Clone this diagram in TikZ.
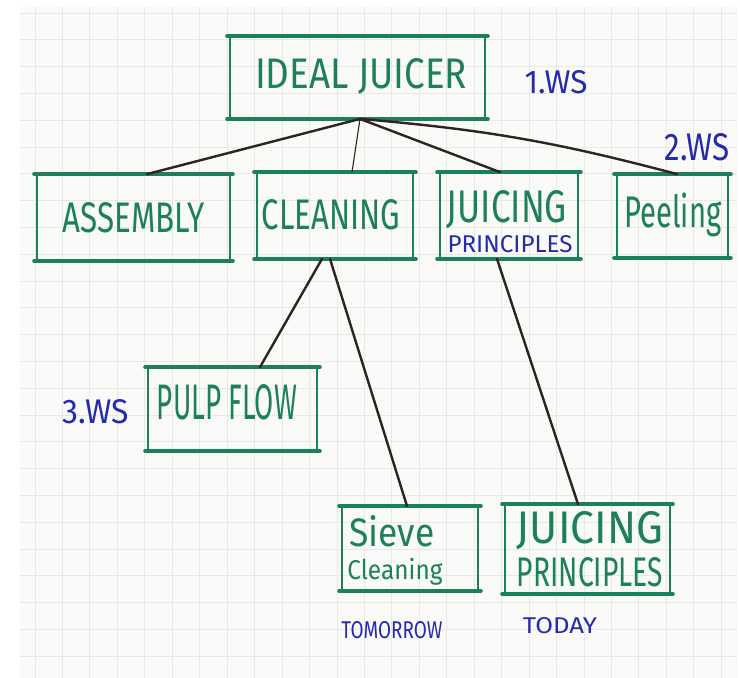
\documentclass[tikz,border=0pt]{standalone}
\usepackage{fontspec}
\usepackage{graphicx}
\newfontfamily\hand{Fira Sans}
\definecolor{jgreen}{RGB}{28,128,88}
\definecolor{jblue}{RGB}{38,42,172}
\definecolor{ink}{RGB}{45,35,35}
\definecolor{paper}{RGB}{250,250,248}
\definecolor{gridline}{RGB}{232,232,230}
% text scaled to a given width and height (height only / height plus depth)
\newcommand\fitcap[3]{\resizebox{#1pt}{#2pt}{\hand #3}}
\newcommand\fitall[3]{\resizebox*{#1pt}{#2pt}{\hand #3}}
\begin{document}
\begin{tikzpicture}[x=1pt,y=-1pt,
  box/.style={draw=jgreen, line width=1.8pt, inner sep=0pt},
  rim/.style={draw=jgreen, line width=3.8pt, line cap=round, shorten <=-2pt, shorten >=-2pt},
  lab/.style={inner sep=0pt, text=jgreen},
  note/.style={inner sep=0pt, text=jblue},
  link/.style={draw=ink, line width=2.4pt, line cap=round},
  thinlink/.style={draw=ink, line width=1.1pt, line cap=round}]
\useasboundingbox (0,0) rectangle (740,678);
\fill[white] (0,0) rectangle (740,678);
% flip-chart sheet with its square grid
\fill[paper] (20,7) rectangle (737,678);
\foreach \k in {0,...,25} \draw[gridline, line width=0.9pt] (35+27.45*\k,7) -- (35+27.45*\k,678);
\foreach \k in {0,...,24} \draw[gridline, line width=0.9pt] (20,13+26.8*\k) -- (737,13+26.8*\k);

% boxes
\node[box, minimum width=255pt, minimum height=81pt] (ideal)    at (357.5,77.5) {};
\node[box, minimum width=193pt, minimum height=85pt] (assembly) at (133.5,217.5) {};
\node[box, minimum width=156pt, minimum height=85pt] (cleaning) at (335,215.5) {};
\node[box, minimum width=138pt, minimum height=85pt] (juicing)  at (509,215.5) {};
\node[box, minimum width=111pt, minimum height=82pt] (peeling)  at (672.5,216) {};
\node[box, minimum width=169pt, minimum height=82pt] (pulp)     at (232.5,409) {};
\node[box, minimum width=136pt, minimum height=83pt] (sieve)    at (410,548.5) {};
\node[box, minimum width=165pt, minimum height=88pt] (juicingb) at (587.5,549) {};
\foreach \n in {ideal,assembly,cleaning,juicing,peeling,pulp,sieve,juicingb}{
  \draw[rim] (\n.north west) -- (\n.north east);
  \draw[rim] (\n.south west) -- (\n.south east);
}

% box texts
\node[lab] (ideal-t)     at (361,76)  {\fitcap{212}{30}{IDEAL JUICER}};
\node[lab] (assembly-t)  at (134,218) {\fitcap{142}{30}{ASSEMBLY}};
\node[lab] (cleaning-t)  at (331,215) {\fitcap{138}{30}{CLEANING}};
\node[lab] (juicing-t)   at (507,210) {\fitcap{120}{32}{JUICING}};
\node[note] (juicing-s)  at (510,244) {\fitcap{125}{17}{PRINCIPLES}};
\node[lab] (peeling-t)   at (673,215) {\fitall{97}{44}{Peeling}};
\node[lab] (pulp-t)      at (227,402) {\fitcap{140}{35}{PULP FLOW}};
\node[lab] (sieve-t)     at (392,531) {\fitcap{85}{31}{Sieve}};
\node[lab] (sieve-s)     at (395,572) {\fitall{95}{27}{Cleaning}};
\node[lab] (juicingb-t)  at (590,531) {\fitcap{146}{32}{JUICING}};
\node[lab] (juicingb-s)  at (590,572) {\fitcap{146}{29}{PRINCIPLES}};

% workshop and schedule notes
\node[note] (ws1) at (556,82)  {\fitcap{63}{23}{1.WS}};
\node[note] (ws2) at (697,147) {\fitcap{65}{27}{2.WS}};
\node[note] (ws3) at (96,412)  {\fitcap{66}{24}{3.WS}};
\node[note] (tomorrow) at (392,630) {\fitcap{101}{17}{TOMORROW}};
\node[note] (today)    at (560,626) {\fitcap{74}{16}{TODAY}};

% tree connectors
\coordinate (hub) at ([xshift=2.5pt]ideal.south);
\draw[link] (hub) -- ([xshift=13.5pt]assembly.north);
\draw[thinlink] (hub) -- ([xshift=17pt]cleaning.north);
\draw[link] (hub) -- ([xshift=-9pt]juicing.north);
\draw[link] (hub) to[bend left=5] ([xshift=4.5pt]peeling.north);
\draw[link] ([xshift=-13pt]cleaning.south) -- ([xshift=27.5pt]pulp.north);
\draw[link] ([xshift=-5pt]cleaning.south) -- ([xshift=-3pt]sieve.north);
\draw[link] ([xshift=-12pt]juicing.south) -- ([xshift=-9.5pt]juicingb.north);
\end{tikzpicture}
\end{document}
